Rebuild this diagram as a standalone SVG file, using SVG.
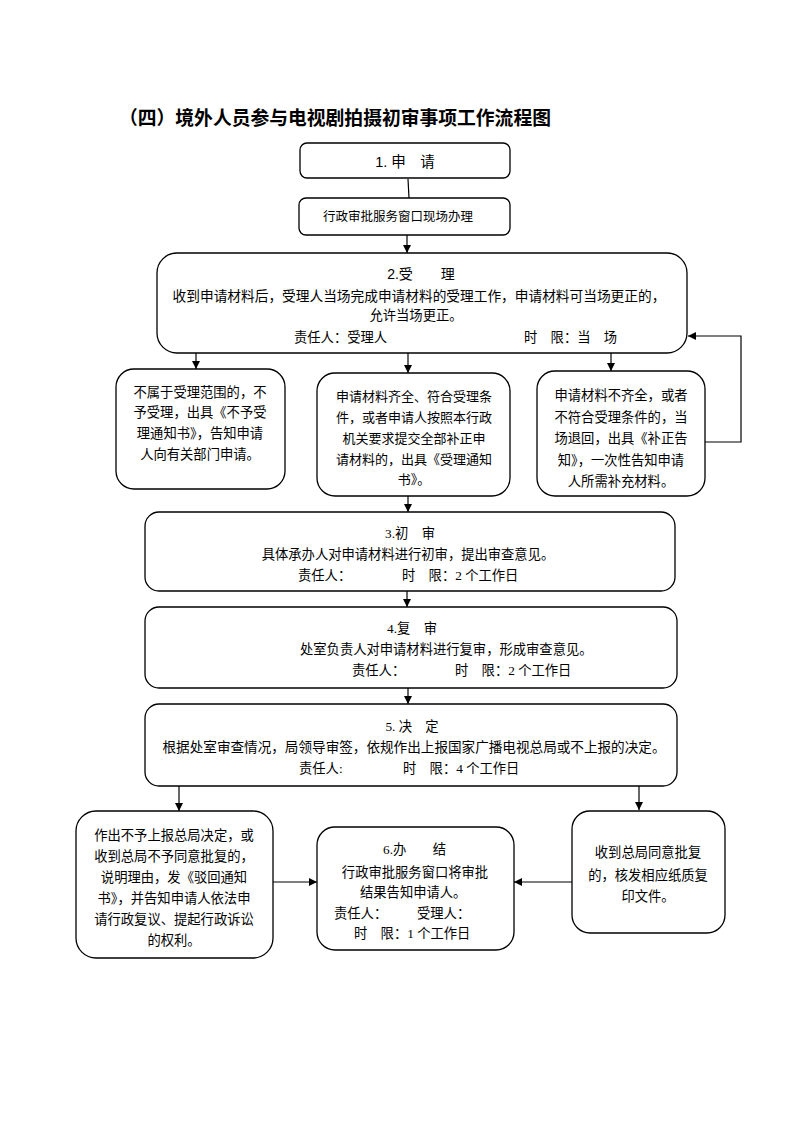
<svg xmlns="http://www.w3.org/2000/svg" width="793" height="1122" viewBox="0 0 793 1122">
<style>
.bx{fill:#fff;stroke:#000;stroke-width:1.3}
.t{font-family:"Liberation Serif","Noto Sans CJK SC",serif;font-size:13.3px;fill:#000}
.s{font-family:"Liberation Sans","Noto Sans CJK SC",sans-serif;font-size:14px;fill:#000}
.m{text-anchor:middle}
.ttl{font-family:"Liberation Sans","Noto Sans CJK SC",sans-serif;font-size:18.8px;font-weight:700;fill:#000}
.c{fill:none;stroke:#000;stroke-width:1.2}
</style>
<defs>
<marker id="ah" viewBox="0 0 10 10" refX="10" refY="5" markerWidth="8" markerHeight="8" markerUnits="userSpaceOnUse" orient="auto">
<path d="M0,0 L10,5 L0,10 z" fill="#000"/>
</marker>
</defs>
<rect width="793" height="1122" fill="#fff"/>
<text class="ttl" x="119" y="125">（四）境外人员参与电视剧拍摄初审事项工作流程图</text>

<g id="connectors">
<path class="c" d="M408,179 L409,198"/>
<path class="c" d="M407,235 L407,253" marker-end="url(#ah)"/>
<path class="c" d="M196,353 L196,369" marker-end="url(#ah)"/>
<path class="c" d="M408,353 L408,373" marker-end="url(#ah)"/>
<path class="c" d="M611,353 L611,371" marker-end="url(#ah)"/>
<path class="c" d="M705,442 L741,442 L741,336 L688,336" marker-end="url(#ah)"/>
<path class="c" d="M408,496 L408,512" marker-end="url(#ah)"/>
<path class="c" d="M407,591 L407,607" marker-end="url(#ah)"/>
<path class="c" d="M408,688 L408,704" marker-end="url(#ah)"/>
<path class="c" d="M179,786 L179,811" marker-end="url(#ah)"/>
<path class="c" d="M639,786 L639,810" marker-end="url(#ah)"/>
<path class="c" d="M273,882 L317,882" marker-end="url(#ah)"/>
<path class="c" d="M572,882 L514,882" marker-end="url(#ah)"/>
</g>

<g id="n1">
<rect class="bx" x="300" y="143" width="210" height="35" rx="7"/>
<text class="s m" x="405" y="167" style="font-size:14.5px">1. 申　请</text>
</g>

<g id="n2">
<rect class="bx" x="299" y="198" width="211" height="37" rx="7"/>
<text class="t m" x="398" y="221" style="font-size:12.5px">行政审批服务窗口现场办理</text>
</g>

<g id="n3">
<rect class="bx" x="157" y="253" width="530" height="100" rx="20"/>
<text class="s m" x="421" y="279">2.受　　理</text>
<text class="t m" x="419" y="301" style="font-size:13.7px">收到申请材料后，受理人当场完成申请材料的受理工作，申请材料可当场更正的，</text>
<text class="t m" x="416" y="320">允许当场更正。</text>
<text class="t" x="294" y="342">责任人：受理人</text>
<text class="t" x="524" y="342">时　限：当　场</text>
</g>

<g id="n4">
<rect class="bx" x="116" y="369" width="169" height="120" rx="18"/>
<text class="t m" x="200" y="397">不属于受理范围的，不</text>
<text class="t m" x="200" y="417">予受理，出具《不予受</text>
<text class="t m" x="200" y="438">理通知书》，告知申请</text>
<text class="t m" x="200" y="459">人向有关部门申请。</text>
</g>

<g id="n5">
<rect class="bx" x="317" y="373" width="193" height="123" rx="18"/>
<text class="t m" x="414" y="401" style="font-size:13px">申请材料齐全、符合受理条</text>
<text class="t m" x="414" y="422" style="font-size:13px">件，或者申请人按照本行政</text>
<text class="t m" x="414" y="443" style="font-size:13px">机关要求提交全部补正申</text>
<text class="t m" x="414" y="464" style="font-size:13px">请材料的，出具《受理通知</text>
<text class="t m" x="414" y="484" style="font-size:13px">书》。</text>
</g>

<g id="n6">
<rect class="bx" x="537" y="371" width="168" height="125" rx="18"/>
<text class="t m" x="621" y="400">申请材料不齐全，或者</text>
<text class="t m" x="621" y="422">不符合受理条件的，当</text>
<text class="t m" x="621" y="443">场退回，出具《补正告</text>
<text class="t m" x="621" y="465">知》，一次性告知申请</text>
<text class="t m" x="621" y="486">人所需补充材料。</text>
</g>

<g id="n7">
<rect class="bx" x="145" y="512" width="530" height="79" rx="14"/>
<text class="t m" x="410" y="538">3.初　审</text>
<text class="t m" x="408" y="559">具体承办人对申请材料进行初审，提出审查意见。</text>
<text class="t" x="298" y="580">责任人：</text>
<text class="t" x="402" y="580">时　限：2 个工作日</text>
</g>

<g id="n8">
<rect class="bx" x="145" y="607" width="532" height="81" rx="14"/>
<text class="t m" x="412" y="633">4.复　审</text>
<text class="t" x="300" y="654">处室负责人对申请材料进行复审，形成审查意见。</text>
<text class="t" x="352" y="675">责任人：</text>
<text class="t" x="455" y="675">时　限：2 个工作日</text>
</g>

<g id="n9">
<rect class="bx" x="145" y="704" width="532" height="82" rx="14"/>
<text class="t m" x="412" y="731">5. 决　定</text>
<text class="t m" x="414" y="752" style="font-size:13.6px">根据处室审查情况，局领导审签，依规作出上报国家广播电视总局或不上报的决定。</text>
<text class="t" x="299" y="773">责任人:</text>
<text class="t" x="403" y="773">时　限：4 个工作日</text>
</g>

<g id="n10">
<rect class="bx" x="76" y="811" width="197" height="147" rx="20"/>
<text class="t m" x="174" y="840">作出不予上报总局决定，或</text>
<text class="t m" x="174" y="861">收到总局不予同意批复的，</text>
<text class="t m" x="174" y="882">说明理由，发《驳回通知</text>
<text class="t m" x="174" y="903">书》，并告知申请人依法申</text>
<text class="t m" x="174" y="924">请行政复议、提起行政诉讼</text>
<text class="t m" x="174" y="945">的权利。</text>
</g>

<g id="n11">
<rect class="bx" x="317" y="827" width="197" height="123" rx="18"/>
<text class="t" x="383" y="854">6.办　　结</text>
<text class="t m" x="415" y="877">行政审批服务窗口将审批</text>
<text class="t" x="360" y="897">结果告知申请人。</text>
<text class="t" x="334" y="918">责任人：</text>
<text class="t" x="417" y="918">受理人：</text>
<text class="t" x="354" y="938">时　限：1 个工作日</text>
</g>

<g id="n12">
<rect class="bx" x="572" y="811" width="153" height="122" rx="18"/>
<text class="t m" x="648" y="857">收到总局同意批复</text>
<text class="t m" x="648" y="880">的，核发相应纸质复</text>
<text class="t m" x="648" y="901">印文件。</text>
</g>
</svg>
